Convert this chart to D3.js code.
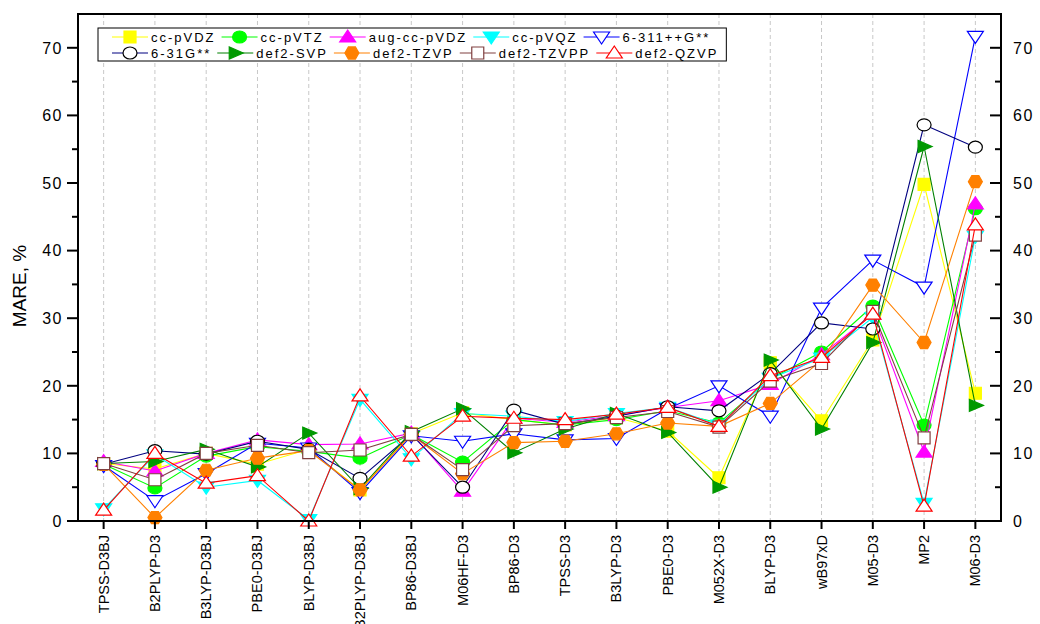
<!DOCTYPE html>
<html>
<head>
<meta charset="utf-8">
<script src="https://cdn.jsdelivr.net/npm/d3@7"></script>
<style>
  body { margin: 0; background: #fff; }
  text { font-family: "Liberation Sans", Arial, sans-serif; }
</style>
</head>
<body>
<div id="chart"></div>
<script>
// categories on the x axis
const methods = ["TPSS-D3BJ", "B2PLYP-D3", "B3LYP-D3BJ", "PBE0-D3BJ", "BLYP-D3BJ", "B2PLYP-D3BJ",
  "BP86-D3BJ", "M06HF-D3", "BP86-D3", "TPSS-D3", "B3LYP-D3", "PBE0-D3", "M052X-D3",
  "BLYP-D3", "wB97xD", "M05-D3", "MP2", "M06-D3"];

// MARE (%) per basis set
const ccpVDZ    = [8.5, 7.7, 10.0, 8.4, 10.6, 4.6, 12.9, 16.0, 15.0, 14.2, 15.3, 13.3, 6.4, 23.4, 14.8, 26.8, 49.8, 18.9];
const ccpVTZ    = [8.4, 4.9, 9.6, 11.0, 10.3, 9.3, 12.8, 8.7, 15.0, 14.2, 15.0, 16.3, 14.5, 21.0, 25.0, 31.8, 14.2, 46.2];
const augccpVDZ = [8.8, 7.4, 10.0, 12.0, 11.3, 11.4, 13.0, 4.4, 15.2, 14.6, 15.6, 16.8, 17.8, 20.2, 24.6, 30.6, 10.2, 46.9];
const ccpVQZ    = [1.8, 9.8, 5.0, 6.0, 0.2, 18.0, 9.2, 15.9, 15.5, 14.7, 15.9, 16.8, 14.2, 21.1, 24.1, 30.1, 2.6, 42.1];
const b6311     = [8.2, 3.0, 7.0, 11.5, 10.8, 4.2, 12.6, 11.8, 12.9, 12.0, 12.2, 16.6, 20.0, 15.5, 31.5, 38.6, 34.6, 71.7];
const b631      = [8.4, 10.4, 9.9, 11.8, 10.6, 6.3, 12.8, 5.0, 16.4, 14.3, 15.5, 16.9, 16.3, 21.8, 29.3, 28.4, 58.6, 55.3];
const def2SVP   = [8.5, 8.8, 10.6, 8.0, 13.0, 4.8, 13.2, 16.6, 10.1, 13.6, 15.9, 13.1, 5.0, 23.8, 13.6, 26.4, 55.4, 17.1];
const def2TZVP  = [8.4, 0.5, 7.5, 9.3, 10.4, 4.6, 12.8, 7.0, 11.6, 11.8, 12.9, 14.5, 14.0, 17.4, 23.8, 34.9, 26.4, 50.2];
const def2TZVPP = [8.5, 6.1, 10.0, 11.2, 10.1, 10.5, 12.8, 7.6, 14.1, 14.4, 15.3, 16.2, 13.9, 20.7, 23.3, 31.0, 12.3, 42.3];
const def2QZVP  = [1.6, 10.0, 5.6, 6.7, 0.0, 18.5, 9.6, 15.5, 15.2, 15.0, 15.8, 16.8, 14.0, 21.5, 24.2, 30.6, 2.2, 43.8];

const yTicks = [0, 10, 20, 30, 40, 50, 60, 70];

// marker shapes (centered at 0,0)
const shapes = {
  square: s => `M${-s},${-s}H${s}V${s}H${-s}Z`,
  circle: s => `M${-s - 1},0A${s + 1},${s} 0 1,1 ${s + 1},0A${s + 1},${s} 0 1,1 ${-s - 1},0Z`,
  up: s => `M0,${-s - 1}L${s + 2},${s - 1}L${-s - 2},${s - 1}Z`,
  down: s => `M0,${s + 1}L${s + 2},${-s + 1}L${-s - 2},${-s + 1}Z`,
  right: s => `M${s + 2},0L${-s},${-s}L${-s},${s}Z`,
  hex: s => {
    let p = [];
    for (let i = 0; i < 6; i++) {
      let a = Math.PI / 3 * i;
      p.push([Math.cos(a) * (s + 1), Math.sin(a) * (s + 1)]);
    }
    return "M" + p.join("L") + "Z";
  }
};

const series = [
  {name: "cc-pVDZ", values: ccpVDZ, line: "#ffff00", stroke: "#ffff00", fill: "#ffff00", shape: "square", size: 6},
  {name: "cc-pVTZ", values: ccpVTZ, line: "#00ff00", stroke: "#00ff00", fill: "#00ff00", shape: "circle", size: 6},
  {name: "aug-cc-pVDZ", values: augccpVDZ, line: "#ff00ff", stroke: "#ff00ff", fill: "#ff00ff", shape: "up", size: 6},
  {name: "cc-pVQZ", values: ccpVQZ, line: "#00ffff", stroke: "#00ffff", fill: "#00ffff", shape: "down", size: 6},
  {name: "6-311++G**", values: b6311, line: "#0000ff", stroke: "#0000ff", fill: "#ffffff", shape: "down", size: 6},
  {name: "6-31G**", values: b631, line: "#000080", stroke: "#000000", fill: "#ffffff", shape: "circle", size: 6},
  {name: "def2-SVP", values: def2SVP, line: "#008000", stroke: "#009900", fill: "#009900", shape: "right", size: 6},
  {name: "def2-TZVP", values: def2TZVP, line: "#ff8000", stroke: "#ff8000", fill: "#ff8000", shape: "hex", size: 6},
  {name: "def2-TZVPP", values: def2TZVPP, line: "#804040", stroke: "#804040", fill: "#ffffff", shape: "square", size: 6},
  {name: "def2-QZVP", values: def2QZVP, line: "#ff0000", stroke: "#ff0000", fill: "#ffffff", shape: "up", size: 6}
];

const W = 1040, H = 624;
const pLeft = 78, pRight = 1001, pTop = 14, pBottom = 521;

const svg = d3.select("#chart").append("svg")
  .attr("width", W)
  .attr("height", H);

const x = d3.scalePoint().domain(methods).range([pLeft, pRight]).padding(0.5);
const y = d3.scaleLinear().domain([0, 75]).range([pBottom, pTop]);

// dashed vertical grid
svg.append("g")
  .selectAll("line")
  .data(methods)
  .join("line")
  .attr("x1", d => x(d))
  .attr("x2", d => x(d))
  .attr("y1", pTop)
  .attr("y2", pBottom)
  .attr("stroke", "#c8c8c8")
  .attr("stroke-dasharray", "4,3");

// series lines + markers
const lineGen = d3.line().x((d, i) => x(methods[i])).y(d => y(d));
series.forEach(s => {
  svg.append("path")
    .datum(s.values)
    .attr("d", lineGen)
    .attr("fill", "none")
    .attr("stroke", s.line)
    .attr("stroke-width", 1.1);
  svg.append("g")
    .selectAll("path")
    .data(s.values)
    .join("path")
    .attr("transform", (d, i) => `translate(${x(methods[i])},${y(d)})`)
    .attr("d", shapes[s.shape](s.size))
    .attr("fill", s.fill)
    .attr("stroke", s.stroke)
    .attr("stroke-width", 1.2);
});

// frame
svg.append("rect")
  .attr("x", pLeft)
  .attr("y", pTop)
  .attr("width", pRight - pLeft)
  .attr("height", pBottom - pTop)
  .attr("fill", "none")
  .attr("stroke", "#000")
  .attr("stroke-width", 2);

// y axes: major ticks with labels, minor at 5
const minor = d3.range(5, 75, 10);
const leftAxis = svg.append("g");
leftAxis.selectAll(".maj").data(yTicks).join("line")
  .attr("x1", pLeft - 11).attr("x2", pLeft)
  .attr("y1", d => y(d)).attr("y2", d => y(d))
  .attr("stroke", "#000").attr("stroke-width", 2);
leftAxis.selectAll(".min").data(minor).join("line")
  .attr("x1", pLeft - 6).attr("x2", pLeft)
  .attr("y1", d => y(d)).attr("y2", d => y(d))
  .attr("stroke", "#000").attr("stroke-width", 2);
leftAxis.selectAll("text").data(yTicks).join("text")
  .attr("x", pLeft - 15)
  .attr("y", d => y(d))
  .attr("dy", "0.36em")
  .attr("text-anchor", "end")
  .style("font-size", "16px")
  .style("letter-spacing", "1.5px")
  .text(d => d);

const rightAxis = svg.append("g");
rightAxis.selectAll(".maj").data(yTicks).join("line")
  .attr("x1", pRight - 11).attr("x2", pRight)
  .attr("y1", d => y(d)).attr("y2", d => y(d))
  .attr("stroke", "#000").attr("stroke-width", 2);
rightAxis.selectAll(".min").data(minor).join("line")
  .attr("x1", pRight - 6).attr("x2", pRight)
  .attr("y1", d => y(d)).attr("y2", d => y(d))
  .attr("stroke", "#000").attr("stroke-width", 2);
rightAxis.selectAll("text").data(yTicks).join("text")
  .attr("x", pRight + 12)
  .attr("y", d => y(d))
  .attr("dy", "0.36em")
  .attr("text-anchor", "start")
  .style("font-size", "16px")
  .style("letter-spacing", "1.5px")
  .text(d => d);

// x ticks and rotated labels
const xAxis = svg.append("g");
xAxis.selectAll("line").data(methods).join("line")
  .attr("x1", d => x(d)).attr("x2", d => x(d))
  .attr("y1", pBottom).attr("y2", pBottom + 8)
  .attr("stroke", "#000").attr("stroke-width", 2);
xAxis.selectAll("text").data(methods).join("text")
  .attr("transform", d => `translate(${x(d) + 5},${pBottom + 14}) rotate(-90)`)
  .attr("text-anchor", "end")
  .style("font-size", "14.5px")
  .text(d => d);

// y title
svg.append("text")
  .attr("transform", `translate(26,286) rotate(-90)`)
  .attr("text-anchor", "middle")
  .style("font-size", "19px")
  .text("MARE, %");

// legend
const legend = svg.append("g");
const rows = [series.slice(0, 5), series.slice(5)];
const legX = 112, legTop = 28;
let maxEnd = 0;
rows.forEach((row, r) => {
  let cx = legX;
  const cy = legTop + 9 + r * 16;
  row.forEach(s => {
    let sx = cx + 18;
    legend.append("line")
      .attr("x1", cx).attr("x2", cx + 36)
      .attr("y1", cy).attr("y2", cy)
      .attr("stroke", s.line).attr("stroke-width", 1.1);
    legend.append("path")
      .attr("transform", `translate(${sx},${cy})`)
      .attr("d", shapes[s.shape](s.size))
      .attr("fill", s.fill)
      .attr("stroke", s.stroke)
      .attr("stroke-width", 1.2);
    let t = legend.append("text")
      .attr("x", cx + 39)
      .attr("y", cy)
      .attr("dy", "0.36em")
      .style("font-size", "13px")
      .style("letter-spacing", "2px")
      .text(s.name);
    let end = cx + 39 + t.node().getComputedTextLength();
    cx = end + 6;
    maxEnd = Math.max(maxEnd, end);
  });
});
legend.insert("rect", ":first-child")
  .attr("x", 98)
  .attr("y", legTop)
  .attr("width", maxEnd + 8 - 98)
  .attr("height", 33)
  .attr("fill", "#fff")
  .attr("stroke", "#000")
  .attr("stroke-width", 1);
</script>
</body>
</html>
